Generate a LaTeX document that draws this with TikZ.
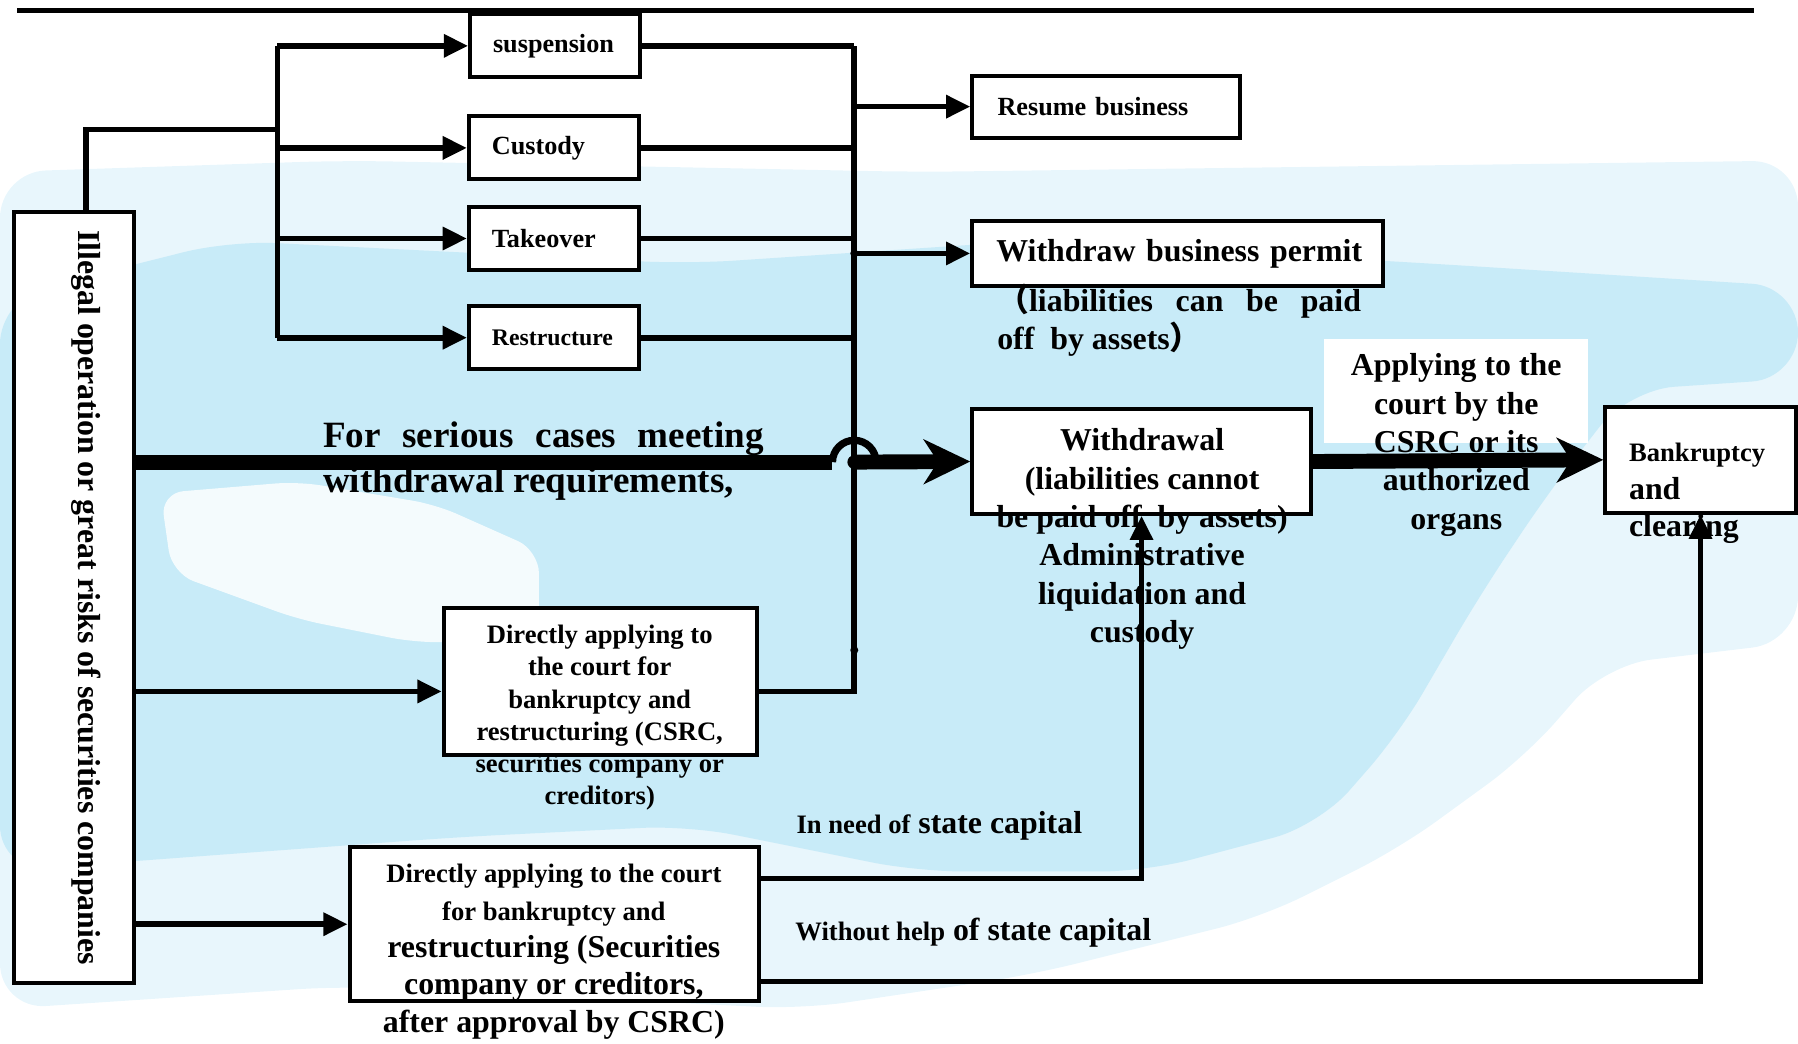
\documentclass[tikz,border=0pt]{standalone}
\usepackage{fontspec}
\setmainfont{Liberation Serif}
\newfontfamily\cjk{Noto Sans CJK SC}
\usetikzlibrary{arrows.meta}
\definecolor{skyblue}{RGB}{200,235,248}
\definecolor{paleblue}{RGB}{232,246,252}

\begin{document}
\begin{tikzpicture}[x=0.01cm, y=-0.01cm,
    box/.style={draw, rectangle, line width=1pt, fill=white, inner sep=0pt},
    measure/.style={box, minimum height=0.55cm, text width=1.08cm, inner xsep=0.2cm, align=left, smalltext},
    smalltext/.style={font=\bfseries\fontsize{6.5}{7.8}\selectfont},
    courttext/.style={font=\bfseries\fontsize{6.6}{8}\selectfont},
    midtext/.style={font=\bfseries\fontsize{7.9}{9.5}\selectfont},
    largetext/.style={font=\bfseries\fontsize{9.2}{11.1}\selectfont},
    line/.style={line width=1.4pt},
    arr/.style={line width=1.4pt, -{Triangle[length=6pt,width=5.5pt]}},
    bigarr/.style={line width=3.7pt, -{Stealth[length=11.5pt,width=11pt,inset=3.5pt]}}]

    \useasboundingbox (0,0) rectangle (1568,910);

    % Background
    \fill[paleblue, rounded corners=0.4cm] (0,150) -- (300,140) -- (800,150) -- (1568,140) -- (1568,560) -- (1400,580) -- (1330,660) -- (1220,740) -- (1100,800) -- (900,850) -- (700,880) -- (300,860) -- (0,880) -- cycle;
    \fill[skyblue, rounded corners=0.4cm] (0,260) -- (200,210) -- (600,230) -- (900,210) -- (1250,230) -- (1568,250) -- (1568,330) -- (1420,340) -- (1350,430) -- (1290,520) -- (1220,640) -- (1150,720) -- (1000,760) -- (800,760) -- (600,720) -- (400,730) -- (130,750) -- (0,760) -- cycle;
    \fill[white, opacity=0.8, rounded corners=0.2cm] (140,430) -- (260,420) -- (380,440) -- (470,480) -- (470,560) -- (360,560) -- (260,540) -- (150,500) -- cycle;
    \fill[white] (1155,296) rectangle (1385,386);

    % Top rule
    \draw[line width=1.2pt] (15,9) -- (1530,9);

    % Starting point
    \node[box, minimum width=1.05cm, minimum height=6.72cm] (illegal) at (64.5,521) {};
    \node[midtext, rotate=-90, inner sep=0pt] (illegaltext) at (75,521) {Illegal operation or great risks of securities companies};

    % Measures
    \node[measure] (suspension) at (484,40) {suspension};
    \node[measure] (custody) at (483,129) {Custody};
    \node[measure] (takeover) at (483,208) {Takeover};
    \node[measure, font=\bfseries\fontsize{5.9}{7}\selectfont] (restructure) at (483,294.5) {Restructure};

    % Outcomes
    \node[box, smalltext, minimum height=0.54cm, text width=1.89cm, inner xsep=0.22cm, align=left] (resume) at (964.5,93) {Resume business};
    \node[box, midtext, minimum height=0.56cm, text width=3.16cm, inner xsep=0.21cm, align=left] (permit) at (1027,221) {\mbox{Withdraw business permit}};
    \node[midtext, anchor=north west, inner sep=0pt, align=left] (permitnote) at (869,247) {\makebox[3.17cm][s]{{\cjk （}liabilities can be paid}\\off\ \ by assets{\cjk ）}};

    \node[box, minimum width=2.95cm, minimum height=0.91cm] (withdrawal) at (995.5,402.5) {};
    \node[midtext, align=center, inner sep=0pt] (withdrawaltext) at (996,470) {Withdrawal\\(liabilities cannot\\be paid off\ \ by assets)\\Administrative\\liquidation and\\custody};

    \node[box, minimum width=1.66cm, minimum height=0.92cm] (bankruptcy) at (1483,401) {};
    \node[midtext, anchor=north west, align=left, inner sep=0pt, font=\bfseries\fontsize{7.9}{9.3}\selectfont] (bankruptcytext) at (1420,386) {{\fontsize{6.6}{8}\selectfont Bankruptcy}\\and\\clearing};

    \node[midtext, align=center, inner sep=0pt] (applying) at (1270,388) {Applying to the\\court by the\\CSRC or its\\authorized\\organs};

    % Court routes
    \node[box, minimum width=2.73cm, minimum height=1.28cm] (courtcsrc) at (523.5,594) {};
    \node[courttext, align=center, inner sep=0pt] (courtcsrctext) at (523,626) {Directly applying to\\the court for\\bankruptcy and\\restructuring (CSRC,\\securities company or\\creditors)};

    \node[box, minimum width=3.57cm, minimum height=1.34cm] (courtfirm) at (483.5,806) {};
    \node[align=center, inner sep=0pt, font=\bfseries\fontsize{7.9}{9.25}\selectfont] (courtfirmtext) at (483,830) {{\fontsize{6.6}{9.25}\selectfont Directly applying to the court}\\{\fontsize{6.6}{9.25}\selectfont for bankruptcy and}\\restructuring (Securities\\company or creditors,\\after approval by CSRC)};

    % Labels
    \node[largetext, anchor=north west, align=left, inner sep=0pt] (serious) at (281,367) {\makebox[3.84cm][s]{For serious cases meeting}\\withdrawal requirements,};
    \node[midtext, anchor=west, inner sep=0pt] (needlabel) at (694,720) {{\fontsize{6.6}{8}\selectfont In need of} state capital};
    \node[midtext, anchor=west, inner sep=0pt] (withoutlabel) at (693,813) {{\fontsize{6.6}{8}\selectfont Without help} of state capital};

    % Connections
    \coordinate (fork) at (242,113);
    \coordinate (merge) at (745,403);
    \coordinate (csrcin) at ([yshift=-0.09cm]courtcsrc.west);
    \coordinate (csrcout) at ([yshift=-0.09cm]courtcsrc.east);

    \draw[line] ([xshift=0.105cm]illegal.north) |- (fork);
    \draw[line] (fork |- suspension.west) -- (fork |- restructure.west);
    \foreach \n in {suspension,custody,takeover,restructure}
        \draw[arr] (fork |- \n.west) -- (\n.west);
    \foreach \n in {suspension,custody,takeover,restructure}
        \draw[line] (\n.east) -- (merge |- \n.east);
    \draw[line] (csrcout) -| (merge |- suspension.east);
    \draw[arr] (merge |- resume.west) -- (resume.west);
    \draw[arr] (merge |- permit.west) -- (permit.west);
    \fill (merge |- permit.west) circle[radius=0.035cm];
    \fill (745,567) circle[radius=0.035cm];

    \draw[line width=3.7pt] (illegal.east |- merge) -- ([xshift=-0.19cm]merge);
    \draw[line width=1.8pt] ([xshift=-0.19cm]merge) arc[start angle=180, end angle=0, radius=0.19cm];
    \draw[bigarr] (merge) -- (withdrawal.west);
    \fill (merge) circle[radius=0.06cm];
    \draw[bigarr] (withdrawal.east) -- (bankruptcy.west);

    \draw[arr] (illegal.east |- csrcin) -- (csrcin);
    \draw[arr] (illegal.east |- courtfirm.west) -- (courtfirm.west);
    \draw[arr] ([yshift=0.4cm]courtfirm.east) -| (withdrawal.south);
    \draw[arr] ([yshift=-0.5cm]courtfirm.east) -| (bankruptcy.south);
\end{tikzpicture}
\end{document}
